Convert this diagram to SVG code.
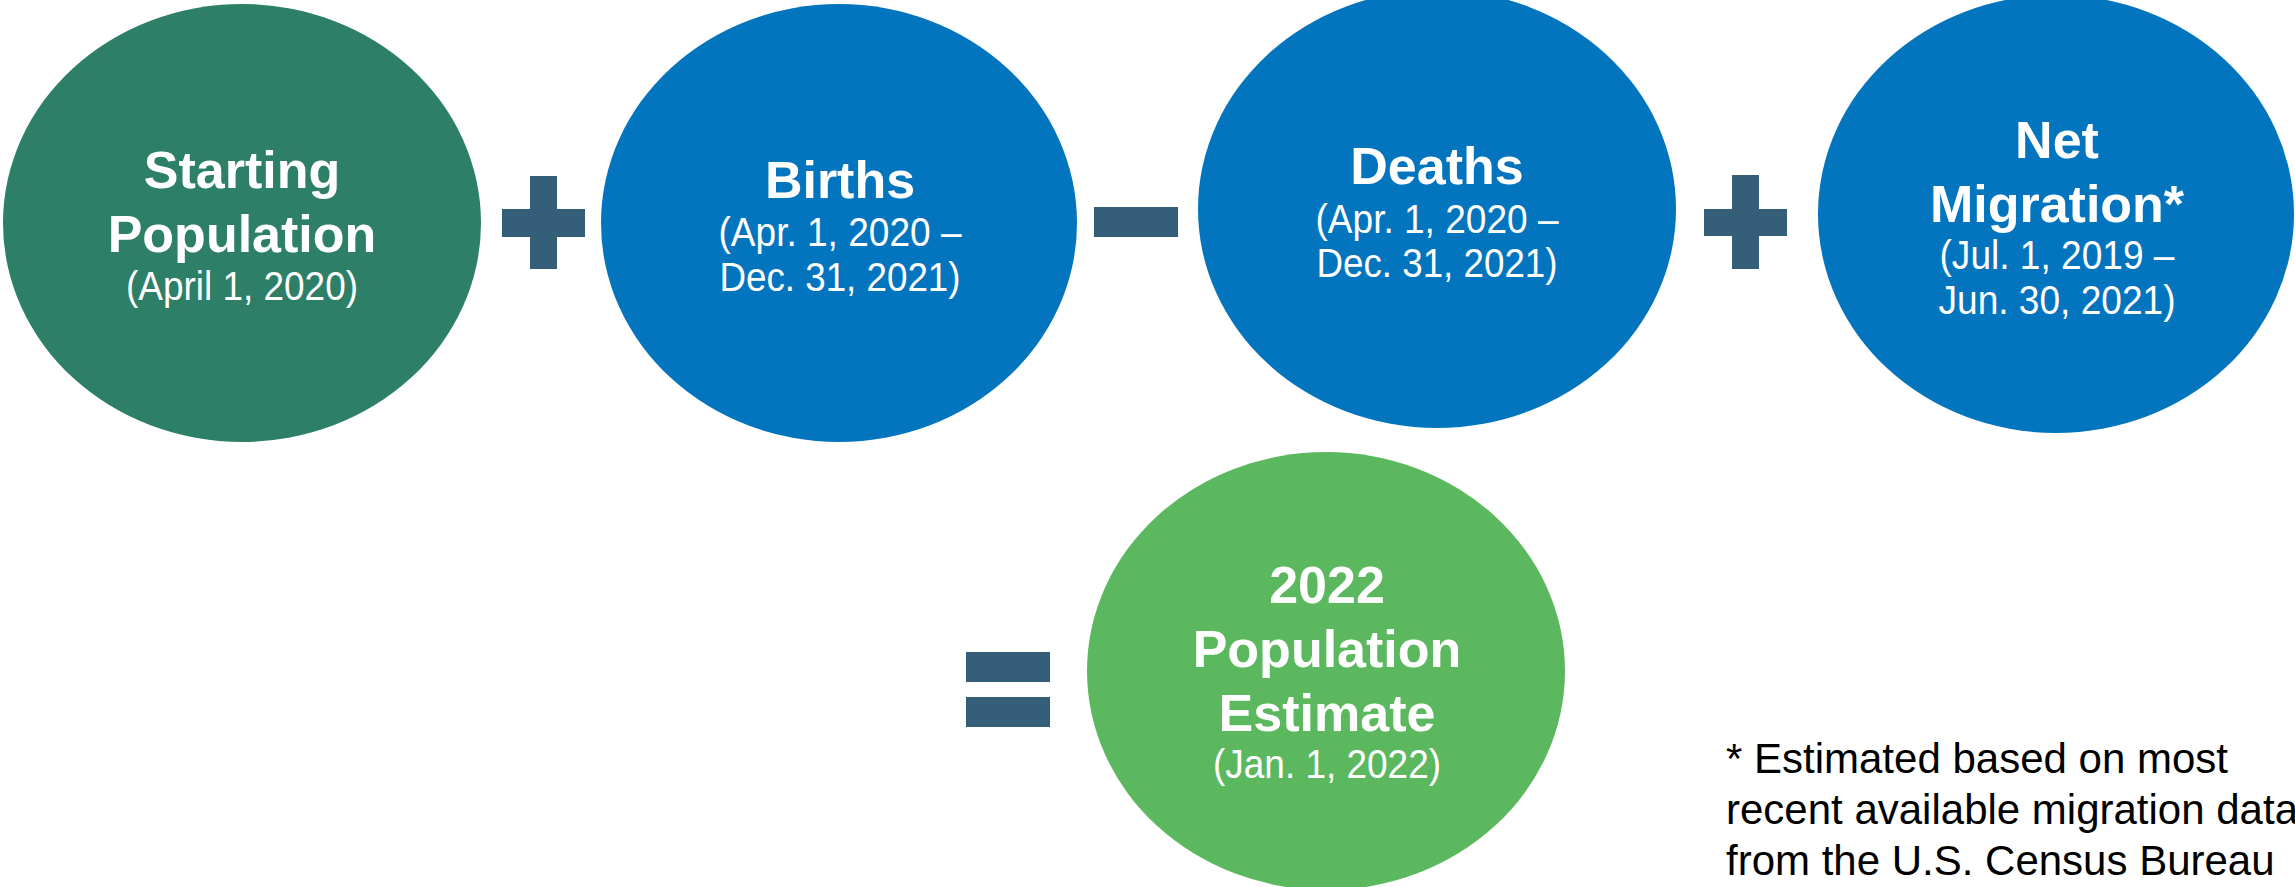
<svg xmlns="http://www.w3.org/2000/svg" width="2295" height="887" viewBox="0 0 2295 887">
<style>
.b{font-family:"Liberation Sans",Arial,sans-serif;font-weight:bold;font-size:52px;fill:#fff;text-anchor:middle}
.r{font-family:"Liberation Sans",Arial,sans-serif;font-size:40px;fill:#fff;text-anchor:middle}
.op{fill:#355F78}
.note{font-family:"Liberation Sans",Arial,sans-serif;font-size:42px;fill:#000}
</style>
<rect width="2295" height="887" fill="#fff"/>
<g id="node-start">
<ellipse cx="242" cy="223" rx="239" ry="219" fill="#2D8067"/>
<text class="b" x="242" y="188">Starting</text>
<text class="b" x="242" y="252">Population</text>
<text class="r" x="242" y="300" textLength="232" lengthAdjust="spacingAndGlyphs">(April 1, 2020)</text>
</g>
<g id="node-births">
<ellipse cx="839" cy="223" rx="238" ry="219" fill="#0374BE"/>
<text class="b" x="840" y="198">Births</text>
<text class="r" x="840" y="246" textLength="243" lengthAdjust="spacingAndGlyphs">(Apr. 1, 2020 –</text>
<text class="r" x="840" y="291" textLength="241" lengthAdjust="spacingAndGlyphs">Dec. 31, 2021)</text>
</g>
<g id="node-deaths">
<ellipse cx="1437" cy="209" rx="239" ry="219" fill="#0374BE"/>
<text class="b" x="1437" y="184">Deaths</text>
<text class="r" x="1437" y="233" textLength="243" lengthAdjust="spacingAndGlyphs">(Apr. 1, 2020 –</text>
<text class="r" x="1437" y="277" textLength="241" lengthAdjust="spacingAndGlyphs">Dec. 31, 2021)</text>
</g>
<g id="node-migration">
<ellipse cx="2056" cy="214" rx="238" ry="219" fill="#0374BE"/>
<text class="b" x="2057" y="158">Net</text>
<text class="b" x="2057" y="222">Migration*</text>
<text class="r" x="2057" y="269" textLength="235" lengthAdjust="spacingAndGlyphs">(Jul. 1, 2019 –</text>
<text class="r" x="2057" y="314" textLength="237" lengthAdjust="spacingAndGlyphs">Jun. 30, 2021)</text>
</g>
<g id="node-estimate">
<ellipse cx="1326" cy="671" rx="239" ry="219" fill="#5CB85F"/>
<text class="b" x="1327" y="603">2022</text>
<text class="b" x="1327" y="667">Population</text>
<text class="b" x="1327" y="731">Estimate</text>
<text class="r" x="1327" y="778" textLength="228" lengthAdjust="spacingAndGlyphs">(Jan. 1, 2022)</text>
</g>
<g id="connectors">
<g id="plus1" class="op">
<rect x="502" y="209" width="83" height="28"/>
<rect x="530" y="176" width="27" height="93"/>
</g>
<g id="minus" class="op">
<rect x="1094" y="207" width="84" height="30"/>
</g>
<g id="plus2" class="op">
<rect x="1704" y="209" width="83" height="27"/>
<rect x="1732" y="175" width="27" height="94"/>
</g>
<g id="equals" class="op">
<rect x="966" y="652" width="84" height="30"/>
<rect x="966" y="697" width="84" height="30"/>
</g>
</g>
<g id="footnote">
<text class="note" x="1726" y="773">* Estimated based on most</text>
<text class="note" x="1726" y="824">recent available migration data</text>
<text class="note" x="1726" y="875">from the U.S. Census Bureau</text>
</g>
</svg>
